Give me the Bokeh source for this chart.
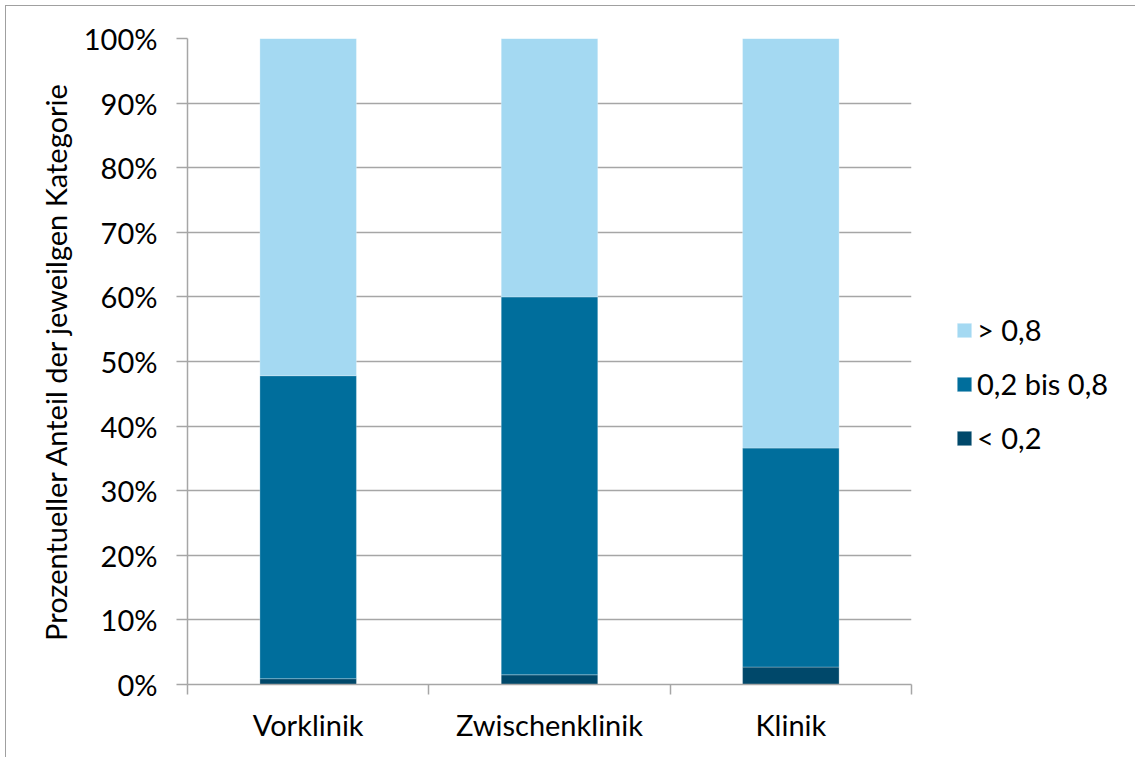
from bokeh.plotting import figure
from bokeh.models import ColumnDataSource, Legend, LegendItem, FixedTicker
from bokeh.embed import file_html
from bokeh.resources import INLINE

# Study phases and the share of each score class (in %)
categories = ["Vorklinik", "Zwischenklinik", "Klinik"]
series_names = ["< 0,2", "0,2 bis 0,8", "> 0,8"]
low = [0.9, 1.5, 2.7]
mid = [46.9, 58.5, 33.9]
high = [52.2, 40.0, 63.4]
y_ticks = [0, 10, 20, 30, 40, 50, 60, 70, 80, 90, 100]
y_tick_labels = [f"{t}%" for t in y_ticks]

colors = ["#00486A", "#006E9C", "#A4D9F2"]
FONT = "Lato"
GRID = "#A6A6A6"

xs = [i + 0.5 for i in range(len(categories))]
src = ColumnDataSource(dict(x=xs, low=low, mid=mid, high=high))

p = figure(
    frame_width=724, frame_height=646,
    x_range=(0, len(categories)), y_range=(0, 100),
    output_backend="svg", toolbar_location=None,
    min_border_left=181, min_border_top=32, min_border_bottom=73, min_border_right=222,
    styles={"margin-left": "5px", "margin-top": "5px",
            "border-left": "1.5px solid #A0A0A0", "border-top": "1.5px solid #A0A0A0"},
)
p.outline_line_color = None

renderers = p.vbar_stack(["low", "mid", "high"], x="x", width=0.4, source=src,
                         color=colors, line_color="white", line_alpha=0.35, line_width=0.8)

# y axis in percent
p.yaxis.ticker = FixedTicker(ticks=y_ticks)
p.yaxis.major_label_overrides = {t: lab for t, lab in zip(y_ticks, y_tick_labels)}
p.yaxis.axis_label = "Prozentueller Anteil der jeweilgen Kategorie"
p.yaxis.axis_label_text_font = FONT
p.yaxis.axis_label_text_font_style = "normal"
p.yaxis.axis_label_text_font_size = "29px"
p.yaxis.axis_label_standoff = 8
p.yaxis.major_label_text_font = FONT
p.yaxis.major_label_text_font_size = "29px"
p.yaxis.major_label_standoff = 19
p.yaxis.major_tick_out = 11
p.yaxis.major_tick_in = 0
p.yaxis.minor_tick_line_color = None

# x axis: labels under the bars, tick marks between categories
p.xaxis.ticker = FixedTicker(ticks=xs, minor_ticks=list(range(len(categories) + 1)))
p.xaxis.major_label_overrides = {x: c for x, c in zip(xs, categories)}
p.xaxis.major_tick_line_color = None
p.xaxis.minor_tick_out = 10
p.xaxis.minor_tick_in = 0
p.xaxis.minor_tick_line_color = GRID
p.xaxis.minor_tick_line_width = 1.5
p.xaxis.major_label_text_font = FONT
p.xaxis.major_label_text_font_size = "29px"
p.xaxis.major_label_standoff = 12

for ax in (p.xaxis, p.yaxis):
    ax.axis_line_color = GRID
    ax.axis_line_width = 1.5
    ax.major_label_text_color = "black"
    ax.axis_label_text_color = "black"
p.yaxis.major_tick_line_color = GRID
p.yaxis.major_tick_line_width = 1.5

p.xgrid.grid_line_color = None
p.ygrid.ticker = FixedTicker(ticks=y_ticks)
p.ygrid.grid_line_color = GRID
p.ygrid.grid_line_width = 1.5

legend = Legend(
    items=[LegendItem(label=series_names[i], renderers=[renderers[i]]) for i in (2, 1, 0)],
    location=(44, 229),
    padding=0, margin=0, spacing=19,
    glyph_width=18, glyph_height=18, label_height=18, label_standoff=4,
    label_text_font=FONT, label_text_font_size="29px", label_text_color="black",
    border_line_color=None, background_fill_alpha=0,
)
p.add_layout(legend, "right")

open("out.html", "w").write(file_html(p, INLINE))
